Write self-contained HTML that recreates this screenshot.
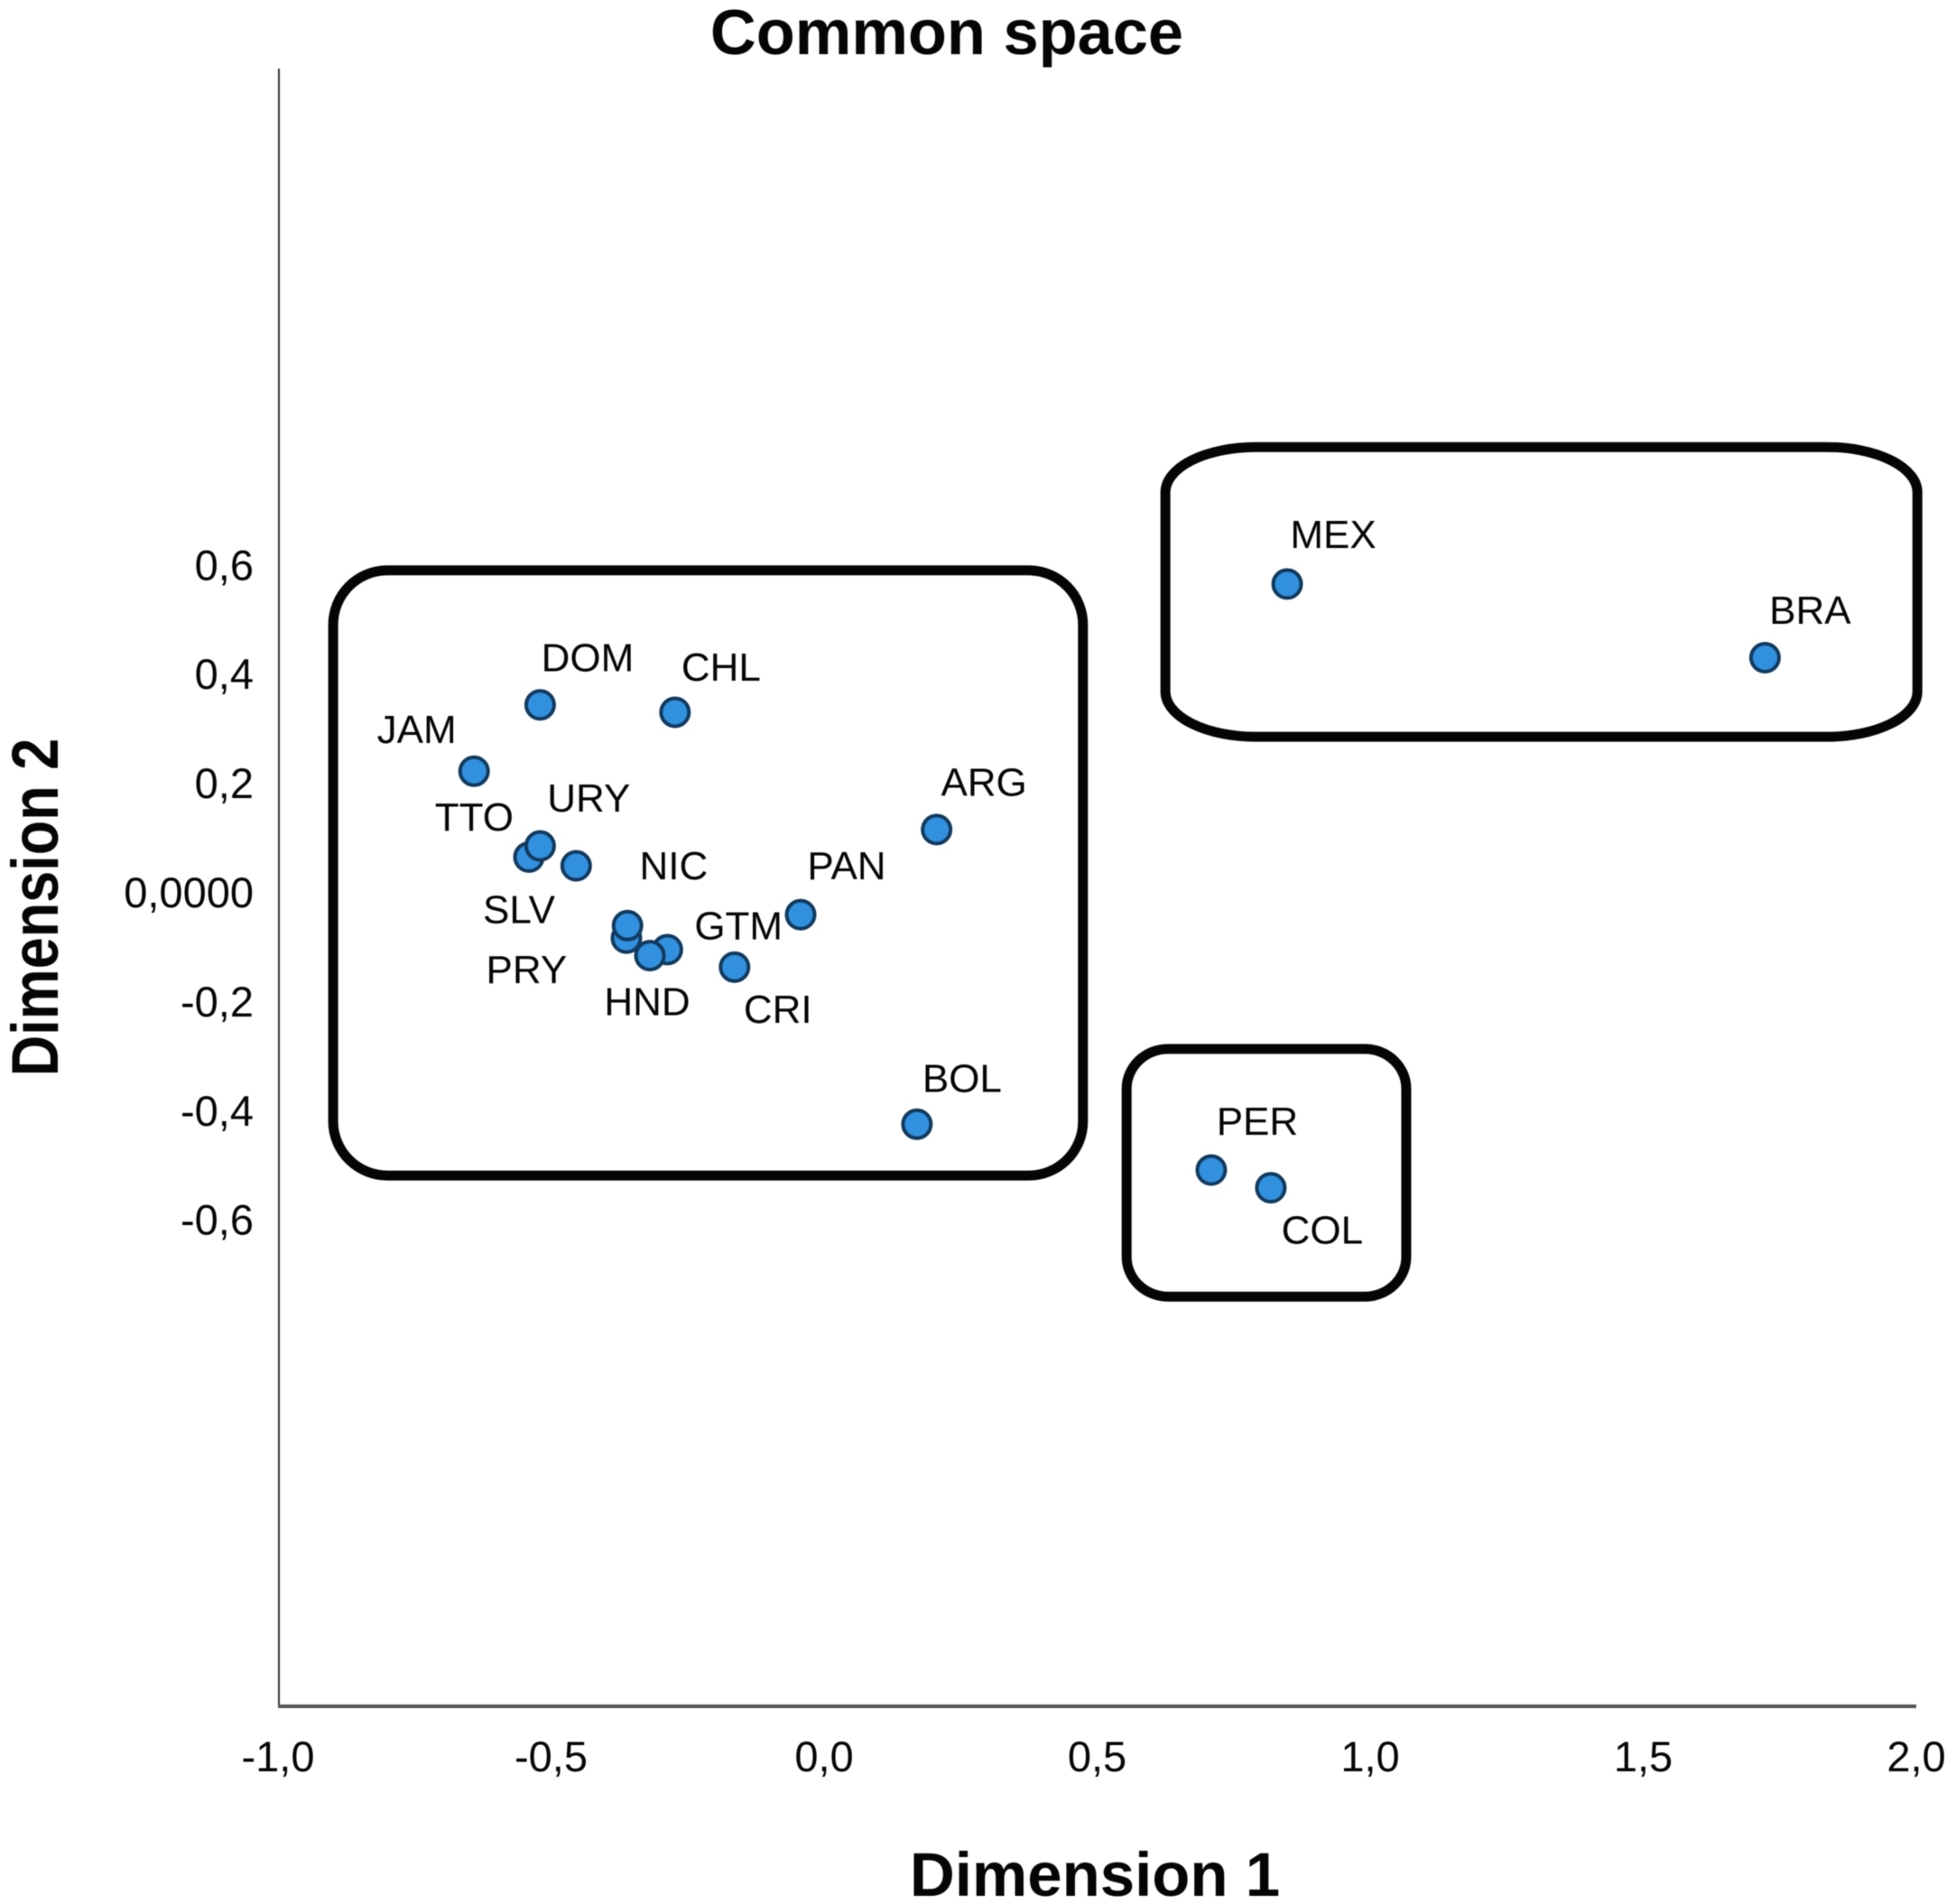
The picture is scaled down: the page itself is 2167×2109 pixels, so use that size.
<!DOCTYPE html>
<html lang="en">
<head>
<meta charset="utf-8">
<title>Common space</title>
<style>
html,body{margin:0;padding:0;background:#fff;}
svg{display:block;filter:blur(0.6px);}
text{font-family:"Liberation Sans",sans-serif;fill:#050505;}
</style>
</head>
<body>
<svg id="chart" xmlns="http://www.w3.org/2000/svg" width="2167" height="2109" viewBox="0 0 2167 2109">
  <rect x="0" y="0" width="2167" height="2109" fill="#ffffff"/>
  <text x="1049" y="60" text-anchor="middle" font-size="70.4" font-weight="bold">Common space</text>
  <text x="1213" y="2100" text-anchor="middle" font-size="69" font-weight="bold">Dimension 1</text>
  <text transform="translate(64 1005) rotate(-90) scale(1 1.17)" text-anchor="middle" font-size="63" font-weight="bold">Dimension 2</text>
  <g id="boxes"></g>
  <g id="axes"></g>
  <g id="points"></g>
  <g id="labels"></g>
</svg>
<script>
const countries = ["DOM","CHL","JAM","SLV","TTO","URY","ARG","PAN","PRY","GTM","NIC","HND","CRI","BOL","MEX","BRA","PER","COL"];
const dimension1 = [-0.520,-0.273,-0.641,-0.5405,-0.520,-0.454,0.206,-0.043,-0.362,-0.360,-0.287,-0.319,-0.164,0.170,0.848,1.723,0.709,0.818];
const dimension2 = [0.3445,0.331,0.223,0.0655,0.086,0.0496,0.116,-0.040,-0.083,-0.060,-0.104,-0.115,-0.136,-0.424,0.566,0.431,-0.508,-0.5405];
const xTickValues = [-1,-0.5,0,0.5,1,1.5,2];
const xTickLabels = ["-1,0","-0,5","0,0","0,5","1,0","1,5","2,0"];
const yTickValues = [0.6,0.4,0.2,0,-0.2,-0.4,-0.6];
const yTickLabels = ["0,6","0,4","0,2","0,0000","-0,2","-0,4","-0,6"];
const clusterNames = ["central-cluster-box","mexico-brazil-box","peru-colombia-box"];
const clusterXMin = [-0.899,0.625,0.554];
const clusterXMax = [0.474,2.002,1.066];
const clusterYMax = [0.591,0.817,-0.286];
const clusterYMin = [-0.518,0.286,-0.740];

const layout = {
  x0: 308, xUnit: 605, y0: 989, yUnit: 604.4,
  axisTop: 76, axisBottom: 1890, axisLeft: 309, axisRight: 2123,
  cornerX: [60,100,46], cornerY: [60,50,44],
  labelOffset: {
    DOM:[52.5,-37.5],CHL:[51,-35],JAM:[-63.6,-31],SLV:[-11,73],TTO:[-73,-17],URY:[14,-60],
    ARG:[52.5,-37.5],PAN:[51,-39],PRY:[-110.6,50],GTM:[123,15],NIC:[7,-78],HND:[-3,66],
    CRI:[48,62],BOL:[50,-36],MEX:[51,-40],BRA:[50,-37.5],PER:[51,-39],COL:[57,62]
  }
};
function xScale(v){ return layout.x0 + (v + 1) * layout.xUnit; }
function yScale(v){ return layout.y0 - v * layout.yUnit; }
const NS = "http://www.w3.org/2000/svg";
function make(tag, attrs, parent){
  const el = document.createElementNS(NS, tag);
  for (const k in attrs) el.setAttribute(k, attrs[k]);
  parent.appendChild(el);
  return el;
}
const axesG = document.getElementById("axes");
const boxesG = document.getElementById("boxes");
const pointsG = document.getElementById("points");
const labelsG = document.getElementById("labels");

clusterNames.forEach(function(name, i){
  const left = xScale(clusterXMin[i]);
  const right = xScale(clusterXMax[i]);
  const top = yScale(clusterYMax[i]);
  const bottom = yScale(clusterYMin[i]);
  const box = make("rect", {x:left, y:top, width:right-left, height:bottom-top, rx:layout.cornerX[i], ry:layout.cornerY[i], fill:"none", stroke:"#050505", "stroke-width":11}, boxesG);
  
  
});

const yAxisLine = make("line", {x1:layout.axisLeft, y1:layout.axisTop, x2:layout.axisLeft, y2:layout.axisBottom, stroke:"#333333", "stroke-width":2}, axesG);


const xAxisLine = make("line", {x1:layout.axisLeft-1, y1:layout.axisBottom, x2:layout.axisRight, y2:layout.axisBottom, stroke:"#555555", "stroke-width":4}, axesG);



xTickValues.forEach(function(v, i){
  const t = make("text", {x:xScale(v), y:1962, "text-anchor":"middle", "font-size":47}, axesG);
  t.textContent = xTickLabels[i];
  
  
});
yTickValues.forEach(function(v, i){
  const t = make("text", {x:281, y:yScale(v)+16, "text-anchor":"end", "font-size":47}, axesG);
  t.textContent = yTickLabels[i];
  
  
});

countries.forEach(function(code, i){
  const cx = xScale(dimension1[i]);
  const cy = yScale(dimension2[i]);
  const dot = make("circle", {cx:cx, cy:cy, r:15.5, fill:"#3191de", stroke:"#123a5e", "stroke-width":4}, pointsG);
  
  
  const off = layout.labelOffset[code];
  const label = make("text", {x:cx+off[0], y:cy+off[1], "text-anchor":"middle", "font-size":44}, labelsG);
  label.textContent = code;
  
  
});
</script>
</body>
</html>
